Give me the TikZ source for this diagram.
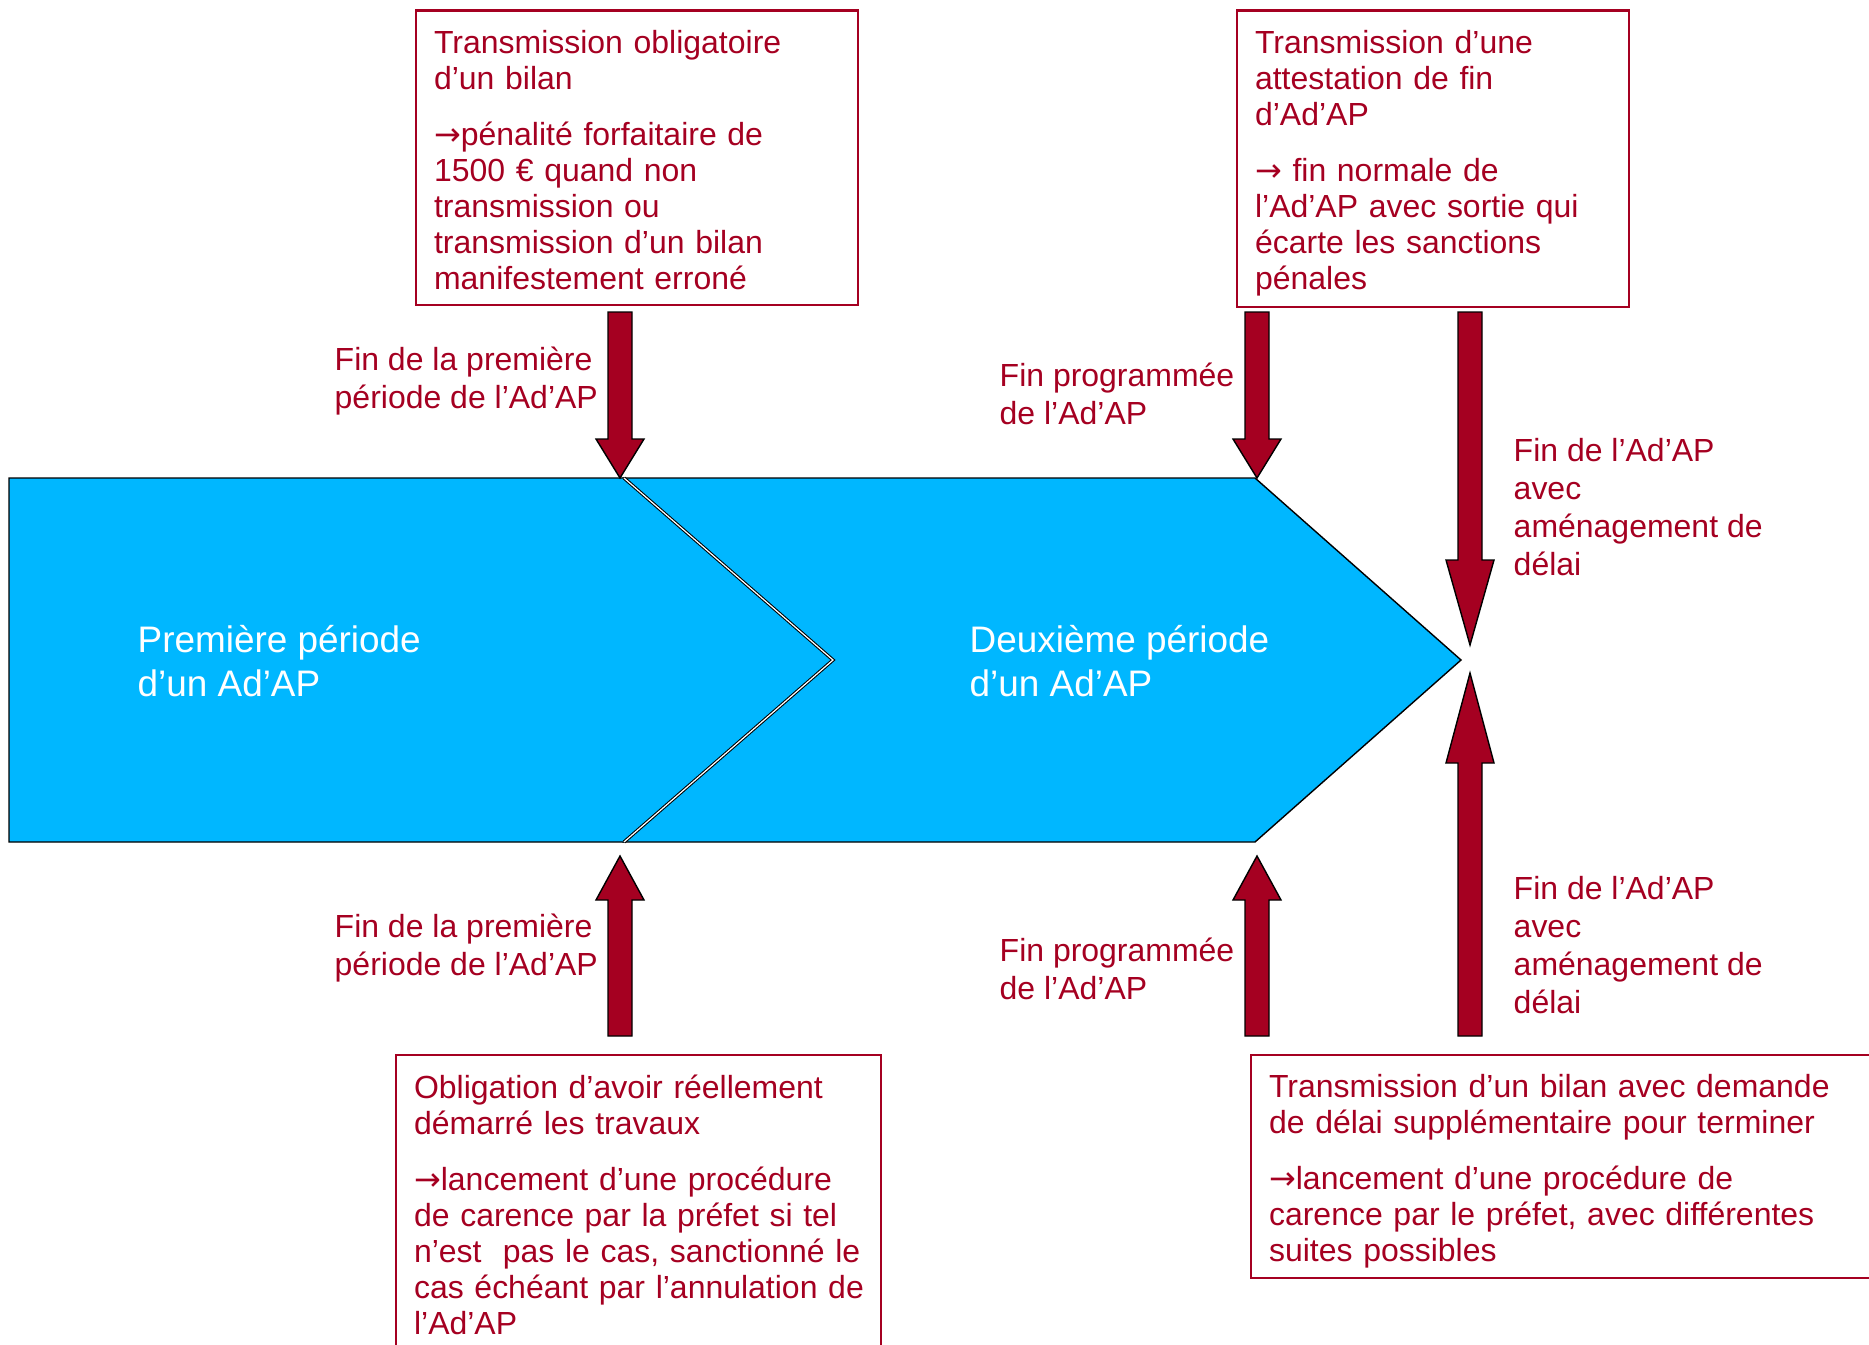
\documentclass[tikz,border=0pt]{standalone}
\usepackage{fontspec}
\setmainfont{Liberation Sans}
\newfontfamily\arrowfont{DejaVu Sans}
\usetikzlibrary{calc}

\definecolor{adred}{RGB}{165,0,33}
\definecolor{adblue}{RGB}{0,183,255}

\newcommand{\adarrow}{{\arrowfont →}}

\tikzset{
	infobox/.style={draw=adred, line width=0.6pt, text=adred, anchor=north west, inner xsep=1.8mm, inner ysep=1.95mm, align=left, font=\fontsize{9.1pt}{10.25pt}\selectfont},
	steplabel/.style={text=adred, anchor=north west, inner sep=0pt, align=left, font=\fontsize{9.1pt}{10.8pt}\selectfont},
	periodtext/.style={text=white, anchor=north west, inner sep=0pt, align=left, font=\fontsize{10.5pt}{12.5pt}\selectfont},
	chev/.style={fill=adblue, draw=black, line width=0.4pt, line join=miter},
	fatarr/.style={fill=adred, draw=black, line width=0.4pt, line join=miter}
}

% block arrow from #1 to #2, head length #3
\newcommand{\fatarrow}[3]{%
	\draw[fatarr] let \p1=(#1), \p2=(#2), \n1={sign(\y2-\y1)} in
		({\x1-1.2mm},\y1) -- ({\x1-1.2mm},{\y2-(\n1)*#3}) -- ({\x1-2.4mm},{\y2-(\n1)*#3})
		-- (\x2,\y2) -- ({\x1+2.4mm},{\y2-(\n1)*#3}) -- ({\x1+1.2mm},{\y2-(\n1)*#3})
		-- ({\x1+1.2mm},\y1) -- cycle;}

\begin{document}
\begin{tikzpicture}[x=0.1mm,y=-0.1mm]
	\useasboundingbox (0,0) rectangle (1869,1344);
	\clip (0,0) rectangle (1869,1344);

	% the two periods
	\draw[chev] (624,478) -- (1255,478) -- (1461,660) -- (1255,842) -- (624,842) -- (833,660) -- cycle;
	\draw[chev] (9,478) -- (624,478) -- (833,660) -- (624,842) -- (9,842) -- cycle;
	\draw[double=white, double distance=0.35pt, line width=0.3pt] (624,478) -- (833,660) -- (624,842);

	\node[periodtext] (per1) at (137,625) {Première période\\d’un Ad’AP};
	\node[periodtext] (per2) at (969,625) {Deuxième période\\d’un Ad’AP};

	% boxes
	\node[infobox, text width=40.6mm, text depth=23.2mm] (bilan) at (415,9.5) {Transmission obligatoire\\d’un bilan\\[2mm]\adarrow pénalité forfaitaire de\\1500 € quand non\\transmission ou\\transmission d’un bilan\\manifestement erroné};
	\node[infobox, text width=35.6mm, text depth=23.4mm] (attest) at (1236,9.5) {Transmission d’une\\attestation de fin\\d’Ad’AP\\[2mm]\adarrow{} fin normale de\\l’Ad’AP avec sortie qui\\écarte les sanctions\\pénales};
	\node[infobox, text width=44.9mm, text depth=28mm] (oblig) at (395,1054) {Obligation d’avoir réellement\\démarré les travaux\\[2mm]\adarrow lancement~d’une~procédure\\de~carence~par~la~préfet~si~tel\\n’est~~pas~le~cas,~sanctionné~le\\cas~échéant~par~l’annulation~de\\l’Ad’AP};
	\node[infobox, text width=64mm, text depth=16.1mm] (delai) at (1250,1054) {Transmission d’un bilan avec demande\\de délai supplémentaire pour terminer\\[2mm]\adarrow lancement d’une procédure de\\carence par le préfet, avec différentes\\suites possibles};

	% labels
	\node[steplabel] (fin1) at (334,346) {Fin de la première\\période de l’Ad’AP};
	\node[steplabel] (prog1) at (999,362) {Fin programmée\\de l’Ad’AP};
	\node[steplabel] (amen1) at (1513,438) {Fin de l’Ad’AP\\avec\\aménagement de\\délai};
	\node[steplabel] (fin2) at (334,913) {Fin de la première\\période de l’Ad’AP};
	\node[steplabel] (prog2) at (999,937) {Fin programmée\\de l’Ad’AP};
	\node[steplabel] (amen2) at (1513,876) {Fin de l’Ad’AP\\avec\\aménagement de\\délai};

	% arrows
	\coordinate (a1s) at (620,312);
	\coordinate (a1t) at (620,478);
	\coordinate (a2s) at (1257,312);
	\coordinate (a2t) at (1257,478);
	\coordinate (a3s) at (1470,312);
	\coordinate (a3t) at (1470,645);
	\coordinate (a4s) at (620,1036);
	\coordinate (a4t) at (620,856);
	\coordinate (a5s) at (1257,1036);
	\coordinate (a5t) at (1257,856);
	\coordinate (a6s) at (1470,1036);
	\coordinate (a6t) at (1470,673);
	\fatarrow{a1s}{a1t}{3.9mm}
	\fatarrow{a2s}{a2t}{3.9mm}
	\fatarrow{a3s}{a3t}{8.5mm}
	\fatarrow{a4s}{a4t}{4.4mm}
	\fatarrow{a5s}{a5t}{4.4mm}
	\fatarrow{a6s}{a6t}{9mm}
\end{tikzpicture}
\end{document}
